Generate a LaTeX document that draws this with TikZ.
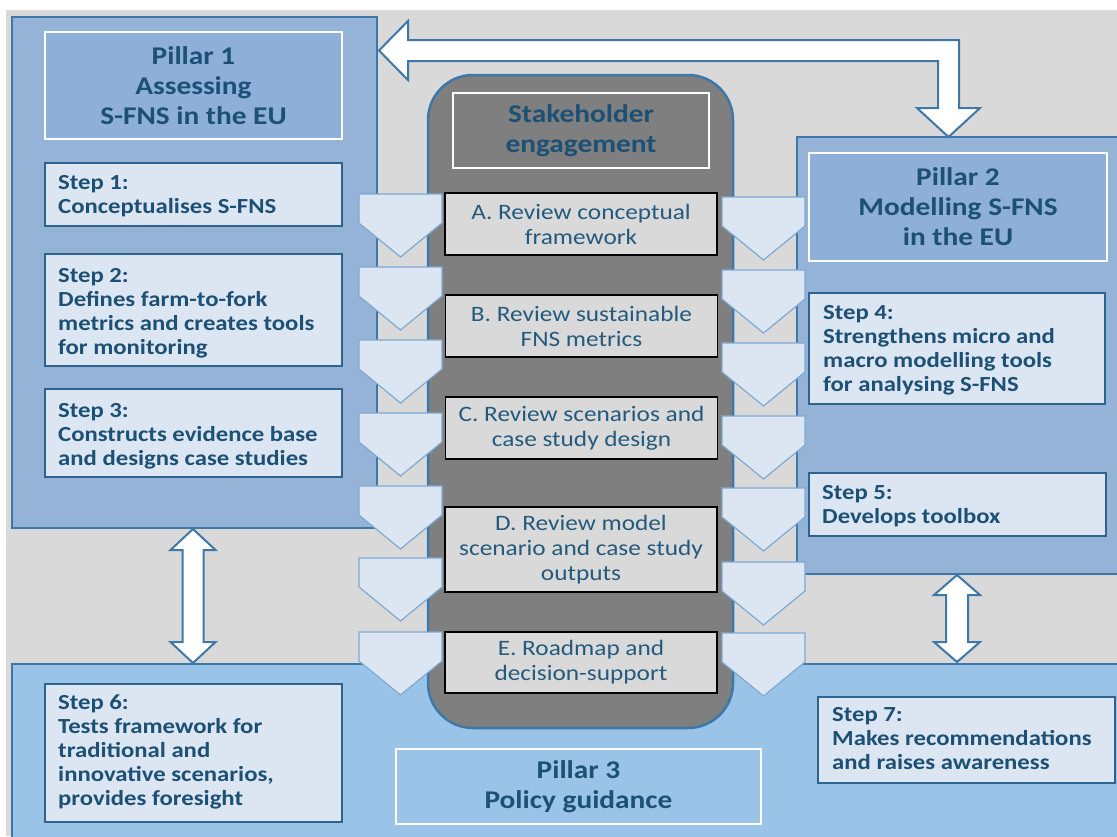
\documentclass[tikz,border=0pt]{standalone}
\usepackage{fontspec}
\setmainfont{Carlito}[FakeStretch=1.15]
\definecolor{bggray}{HTML}{D9D9D9}
\definecolor{pone}{HTML}{95B3D7}
\definecolor{ponetitle}{HTML}{8DAFD8}
\definecolor{pthree}{HTML}{9AC4E7}
\definecolor{pbord}{HTML}{3E78A8}
\definecolor{stepfill}{HTML}{DCE6F2}
\definecolor{stepbord}{HTML}{2F638F}
\definecolor{tcol}{HTML}{1C5075}
\definecolor{rtext}{HTML}{235A7D}
\definecolor{dgray}{HTML}{7F7F7F}
\definecolor{revfill}{HTML}{D9D9D9}
\definecolor{chevfill}{HTML}{DCE6F2}
\definecolor{chevbord}{HTML}{7EA9D2}
\tikzset{
  pillar/.style={draw=pbord, line width=2.5pt},
  ptitle/.style={draw=white, line width=2.5pt, fill=ponetitle, text=tcol,
    font=\bfseries\fontsize{25.5}{30}\selectfont, align=center, inner sep=0pt},
  stepbox/.style={draw=stepbord, line width=2pt, fill=stepfill},
  steptext/.style={anchor=north west, inner sep=0pt, align=left, text=tcol,
    font=\bfseries\fontsize{21.5}{24}\selectfont},
  revbox/.style={draw=black, line width=1.6pt, fill=revfill, text=rtext,
    minimum width=272pt, align=center, inner sep=0pt,
    font=\fontsize{22}{25}\selectfont},
  chev/.style={draw=chevbord, line width=1.2pt, fill=chevfill, line join=miter},
  bigarrow/.style={draw=pbord, line width=2pt, fill=white, line join=miter}
}
\newcommand\mychev[2]{\draw[chev] (#1,#2) -- ++(83,0) -- ++(0,29) -- ++(-41.5,34) -- ++(-41.5,-34) -- cycle;}
\begin{document}
\begin{tikzpicture}[x=1pt,y=-1pt]
\useasboundingbox (0,0) rectangle (1117,836);
\clip (0,0) rectangle (1117,836);
\fill[white] (0,0) rectangle (1117,836);
\fill[bggray] (6,10) rectangle (1117,836);

% pillars
\draw[pillar, fill=pthree] (12,664) rectangle (1130,850);
\draw[pillar, fill=pone] (12,17) rectangle (377,528);
\draw[pillar, fill=pone] (797,137) rectangle (1130,574);

% pillar titles
\node[ptitle, minimum width=297pt, minimum height=107pt] (p1) at (193.5,85.5) {Pillar 1\\Assessing\\S-FNS in the EU};
\node[ptitle, minimum width=298pt, minimum height=108pt] (p2) at (958,207) {Pillar 2\\Modelling S-FNS\\in the EU};
\node[ptitle, fill=pthree, minimum width=365pt, minimum height=75pt] (p3) at (578.5,786.5) {Pillar 3\\Policy guidance};

% step boxes
\draw[stepbox] (45,163) rectangle (342,226);
\node[steptext] (s1) at (58,175) {Step 1:\\Conceptualises S-FNS};
\draw[stepbox] (45,254) rectangle (342,366);
\node[steptext] (s2) at (58,268) {Step 2:\\Defines farm-to-fork\\metrics and creates tools\\for monitoring};
\draw[stepbox] (45,389) rectangle (342,477);
\node[steptext] (s3) at (58,403) {Step 3:\\Constructs evidence base\\and designs case studies};
\draw[stepbox] (45,684) rectangle (342,822);
\node[steptext] (s6) at (58,695) {Step 6:\\Tests framework for\\traditional and\\innovative scenarios,\\provides foresight};
\draw[stepbox] (809,293) rectangle (1105,404);
\node[steptext] (s4) at (823,305) {Step 4:\\Strengthens micro and\\macro modelling tools\\for analysing S-FNS};
\draw[stepbox] (809,473) rectangle (1106,536);
\node[steptext] (s5) at (822,485) {Step 5:\\Develops toolbox};
\draw[stepbox] (818,697) rectangle (1115,783);
\node[steptext] (s7) at (832,707) {Step 7:\\Makes recommendations\\and raises awareness};

% big arrows
\draw[bigarrow] (379,50.5) -- (408,21) -- (408,40) -- (959,40) -- (959,108) -- (980,108)
  -- (948.5,137) -- (917,108) -- (938,108) -- (938,61) -- (408,61) -- (408,80) -- cycle;
\draw[bigarrow] (193,529) -- (215.5,550) -- (203.5,550) -- (203.5,642) -- (215.5,642) -- (193,663)
  -- (170.5,642) -- (182.5,642) -- (182.5,550) -- (170.5,550) -- cycle;
\draw[bigarrow] (957,575) -- (980,595) -- (968,595) -- (968,642) -- (980,642) -- (957,662)
  -- (934,642) -- (946,642) -- (946,595) -- (934,595) -- cycle;

% central stakeholder column
\node[draw=pbord, line width=2.5pt, fill=dgray, rounded corners=45pt,
  minimum width=305pt, minimum height=653pt, inner sep=0pt] (core) at (580.5,401.5) {};
\node[draw=white, line width=2.5pt, fill=dgray, text=tcol, minimum width=256pt,
  minimum height=75pt, align=center, inner sep=0pt,
  font=\bfseries\fontsize{25.5}{30}\selectfont] (sh) at (581,130.5) {Stakeholder\\engagement};

\node[revbox, minimum height=62pt] (rA) at (581,224) {A. Review conceptual\\framework};
\node[revbox, minimum height=62pt] (rB) at (581.5,326) {B. Review sustainable\\FNS metrics};
\node[revbox, minimum height=62pt] (rC) at (581.5,428) {C. Review scenarios and\\case study design};
\node[revbox, minimum height=85pt] (rD) at (581,549.5) {D. Review model\\scenario and case study\\outputs};
\node[revbox, minimum height=61pt] (rE) at (581,662.5) {E. Roadmap and\\decision-support};

% chevrons
\foreach \t in {194,267,340,413,486,558,632} {\mychev{359}{\t}}
\foreach \t in {197,270,343,416,488,562,633} {\mychev{722}{\t}}
\end{tikzpicture}
\end{document}
